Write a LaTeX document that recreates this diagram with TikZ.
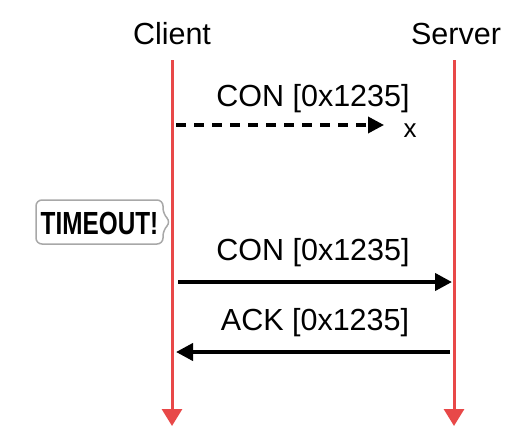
\documentclass[tikz,border=0pt]{standalone}
\usepackage{fontspec}
\setmainfont{Liberation Sans}
\usetikzlibrary{arrows.meta}
\definecolor{lifered}{HTML}{E84848}
\definecolor{boxgray}{HTML}{A8A8A8}
\tikzset{
  lbl/.style={font=\fontsize{30.5}{32}\selectfont, inner sep=0pt, anchor=base},
  life/.style={lifered, line width=3pt, -{Triangle[width=20pt,length=17pt]}},
  msg/.style={black, line width=4pt, -{Triangle[width=17pt,length=17pt]}},
  lost/.style={black, line width=3.5pt, dash pattern=on 10pt off 8pt, -{Triangle[width=16pt,length=16pt]}},
}
\begin{document}
\begin{tikzpicture}[x=1pt,y=-1pt]
\useasboundingbox (0,0) rectangle (526,447);
% participants
\node[lbl] (client) at (172,44) {Client};
\node[lbl] (server) at (456,44) {Server};
\coordinate (ctop) at (172,60);
\coordinate (cbot) at (172,426);
\coordinate (stop) at (454,60);
\coordinate (sbot) at (454,426);
\draw[life] (ctop) -- (cbot);
\draw[life] (stop) -- (sbot);
% lost message
\coordinate (l1s) at (176,125);
\coordinate (l1e) at (384,125);
\draw[lost] (l1s) -- (l1e);
\node[lbl] (l1) at (313,106) {CON [0x1235]};
\node[lbl, font=\fontsize{26}{28}\selectfont] (lx) at (410,137) {x};
% timeout callout
\draw[boxgray, line width=1.5pt, fill=white, rounded corners=6pt]
  (36,200) -- (163,200) -- (163,214) -- (171,222) -- (163,230) -- (163,244) -- (36,244) -- cycle;
\node[inner sep=0pt] (tmo) at (99.5,223) {\scalebox{0.76}[1]{\fontsize{32}{34}\selectfont\bfseries TIMEOUT!}};
% retransmission
\coordinate (m2s) at (178,282);
\coordinate (m2e) at (452,282);
\draw[msg] (m2s) -- (m2e);
\node[lbl] (l2) at (313,260) {CON [0x1235]};
% ack
\coordinate (m3s) at (450,352);
\coordinate (m3e) at (176,352);
\draw[msg] (m3s) -- (m3e);
\node[lbl] (l3) at (315,330) {ACK [0x1235]};
\end{tikzpicture}
\end{document}
